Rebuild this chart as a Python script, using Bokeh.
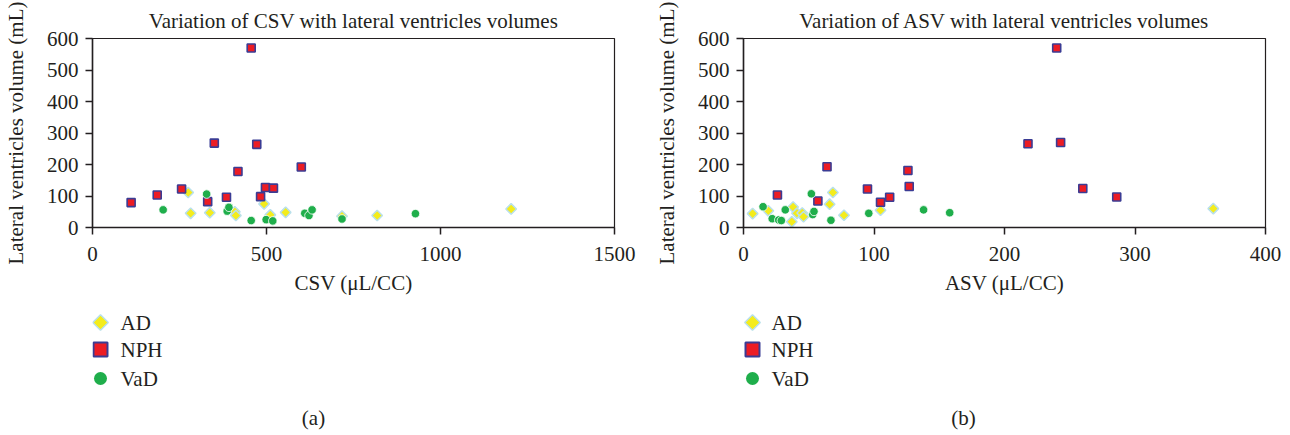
import numpy as np
from bokeh.plotting import figure
from bokeh.models import Range1d, FixedTicker
from bokeh.layouts import row, column
from bokeh.core.properties import value
from bokeh.embed import file_html
from bokeh.resources import INLINE

# ---------------- data ----------------
vol_ticks = [0, 100, 200, 300, 400, 500, 600]
csv_ticks = [0, 500, 1000, 1500]
asv_ticks = [0, 100, 200, 300, 400]

# Panel (a): CSV vs lateral ventricles volume
ad_csv = [275, 282, 337, 409, 412, 493, 511, 555, 717, 818, 1203]
ad_vol_a = [111, 45, 47, 50, 38, 75, 40, 48, 36, 38, 59]
nph_csv = [111, 186, 256, 331, 350, 385, 418, 456, 472, 483, 497, 520, 600]
nph_vol_a = [79, 103, 122, 82, 268, 96, 178, 570, 264, 98, 127, 125, 192]
vad_csv = [203, 328, 387, 392, 456, 499, 518, 610, 622, 631, 717, 928]
vad_vol_a = [56, 106, 52, 64, 22, 25, 21, 45, 38, 56, 27, 44]

# Panel (b): ASV vs lateral ventricles volume
ad_asv = [7, 19, 37, 38, 41, 45, 46, 66, 68.5, 77, 105, 360]
ad_vol_b = [44, 53, 18, 65, 45, 46, 34, 74, 111, 39, 55, 60]
nph_asv = [26, 57, 64, 95, 105, 112, 126, 127, 218, 240, 243, 260, 286]
nph_vol_b = [103, 84, 193, 122, 80, 96, 181, 130, 266, 570, 270, 124, 97]
vad_asv = [15, 22, 27, 29, 32, 52, 53, 54, 67, 96, 138, 158]
vad_vol_b = [66, 28, 24, 22, 56, 107, 41, 51, 23, 45, 56, 47]

groups = ["AD", "NPH", "VaD"]

# ---------------- style ----------------
FONT = "Liberation Serif"
TXT = "#231f20"
YEL, YEL_LINE = "#f4ec1c", "#b9e0ec"
RED, RED_LINE = "#ec1c24", "#3b3c94"
GRN = "#1fae4b"
PLOT_H = 308
LEG_H = 124
FRAME_TOP = 37
FRAME_H = 190


def make_plot(title, xlabel, xmax, xticks, width, bl, br, ad, nph, vad):
    p = figure(width=width, height=PLOT_H, x_range=Range1d(0, xmax), y_range=Range1d(0, 600),
               output_backend="svg", toolbar_location=None,
               min_border_left=bl, min_border_right=br, min_border_top=FRAME_TOP,
               min_border_bottom=PLOT_H - FRAME_TOP - FRAME_H)
    p.title.text = title
    p.title.align = "center"
    p.title.text_font = FONT
    p.title.text_font_size = "21px"
    p.title.text_font_style = "normal"
    p.title.text_color = TXT
    p.title.standoff = 12
    p.grid.visible = False
    p.outline_line_color = TXT
    p.outline_line_width = 1.2
    p.background_fill_color = "white"
    p.border_fill_color = "white"

    p.xaxis.ticker = FixedTicker(ticks=xticks)
    p.yaxis.ticker = FixedTicker(ticks=vol_ticks)
    p.xaxis.axis_label = xlabel
    p.yaxis.axis_label = "Lateral ventricles volume (mL)"
    for ax in (p.xaxis, p.yaxis):
        ax.axis_line_color = TXT
        ax.axis_line_width = 1.5
        ax.major_tick_line_color = TXT
        ax.major_tick_line_width = 1.5
        ax.major_tick_in = 0
        ax.major_tick_out = 7
        ax.minor_tick_line_color = None
        ax.major_label_text_font = FONT
        ax.major_label_text_font_size = "21px"
        ax.major_label_text_color = TXT
        ax.axis_label_text_font = FONT
        ax.axis_label_text_font_size = "21px"
        ax.axis_label_text_font_style = "normal"
        ax.axis_label_text_color = TXT
    p.yaxis.major_label_standoff = 7
    p.yaxis.axis_label_standoff = 16
    p.xaxis.major_label_standoff = 12
    p.xaxis.axis_label_standoff = 7

    p.scatter(ad[0], ad[1], marker="square", angle=np.pi / 4, size=7.5,
              fill_color=YEL, line_color=YEL_LINE, line_width=1.5)
    p.scatter(nph[0], nph[1], marker="square", size=8,
              fill_color=RED, line_color=RED_LINE, line_width=1.6)
    p.scatter(vad[0], vad[1], marker="circle", size=8.5,
              fill_color=GRN, line_color="white", line_width=0.8)
    return p


def make_legend(width, bl, br, key_x, label_x, caption, cap_x):
    # legend keys + caption; x in figure pixels, y measured downward from its top
    lf = figure(width=width, height=LEG_H, x_range=Range1d(bl, width - br), y_range=Range1d(LEG_H, 0),
                output_backend="svg", toolbar_location=None,
                x_axis_type=None, y_axis_type=None,
                min_border=0, min_border_left=bl, min_border_right=br,
                min_border_top=0, min_border_bottom=0)
    lf.grid.visible = False
    lf.outline_line_color = None
    lf.background_fill_color = "white"
    lf.border_fill_color = "white"
    ys = [14, 41, 70]
    lf.scatter([key_x], [ys[0]], marker="square", angle=np.pi / 4, size=11,
               fill_color=YEL, line_color=YEL_LINE, line_width=1.5)
    lf.scatter([key_x], [ys[1]], marker="square", size=14,
               fill_color=RED, line_color=RED_LINE, line_width=2)
    lf.scatter([key_x], [ys[2]], marker="circle", size=13,
               fill_color=GRN, line_color=None)
    lf.text(x=[label_x] * 3, y=ys, text=groups, text_font=value(FONT),
            text_font_size="21px", text_color=TXT, text_baseline="middle", text_align="left")
    lf.text(x=[cap_x], y=[109], text=[caption], text_font=value(FONT),
            text_font_size="21px", text_color=TXT, text_baseline="middle", text_align="center")
    return lf


pa = make_plot("Variation of CSV with lateral ventricles volumes", "CSV (\u03bcL/CC)",
               1500, csv_ticks, 648, 92, 34,
               (ad_csv, ad_vol_a), (nph_csv, nph_vol_a), (vad_csv, vad_vol_a))
pb = make_plot("Variation of ASV with lateral ventricles volumes", "ASV (\u03bcL/CC)",
               400, asv_ticks, 640, 95, 23,
               (ad_asv, ad_vol_b), (nph_asv, nph_vol_b), (vad_asv, vad_vol_b))
la = make_legend(648, 92, 34, 100, 120, "(a)", 313)
lb = make_legend(640, 95, 23, 104, 123, "(b)", 315)

layout = row(column(pa, la), column(pb, lb))
open("out.html", "w").write(file_html(layout, INLINE))
